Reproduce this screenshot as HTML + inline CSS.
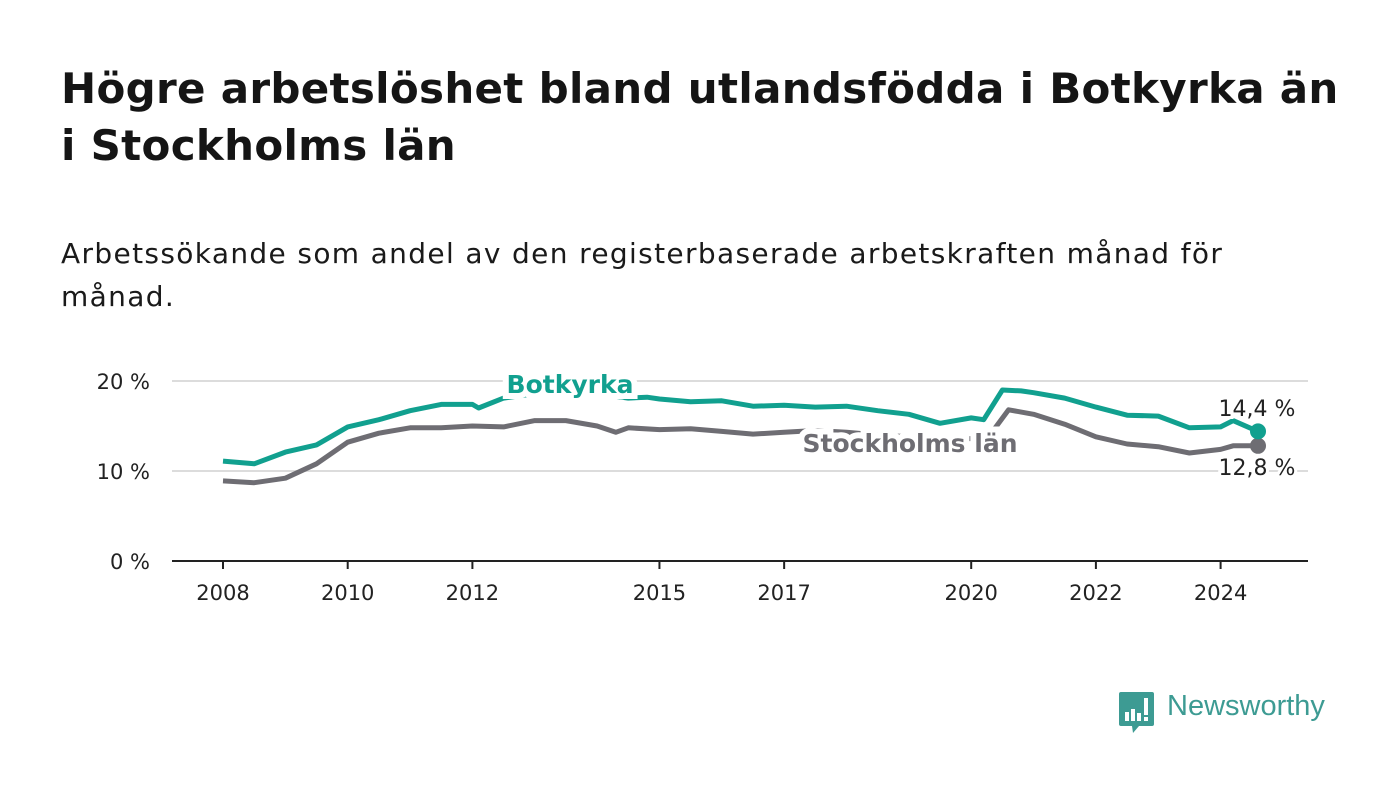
<!DOCTYPE html>
<html><head><meta charset="utf-8"><style>
body{margin:0;background:#fff;width:1400px;height:794px;overflow:hidden;font-family:"DejaVu Sans","Liberation Sans",sans-serif;color:#111}
h1{position:absolute;left:61px;top:60px;margin:0;font-size:42px;line-height:57px;font-weight:bold;width:1380px;color:#151515;letter-spacing:0.3px;white-space:nowrap}
.sub{position:absolute;left:61px;top:232px;font-size:28px;line-height:43px;width:1300px;color:#1a1a1a;margin:0;letter-spacing:1.35px;white-space:nowrap}
svg{position:absolute;left:0;top:0}
</style></head><body>
<h1>Högre arbetslöshet bland utlandsfödda i Botkyrka än<br>i Stockholms län</h1>
<p class="sub">Arbetssökande som andel av den registerbaserade arbetskraften månad för<br>månad.</p>
<svg id="chart" width="1400" height="794" font-family="DejaVu Sans, Liberation Sans, sans-serif"></svg>
<div style="position:absolute;left:1119px;top:692px;">
<svg width="36" height="42" style="position:absolute;left:0;top:0"><path d="M2 0h31a2 2 0 0 1 2 2v30a2 2 0 0 1-2 2H20l-6 7l-1-7H2a2 2 0 0 1-2-2V2a2 2 0 0 1 2-2z" fill="#3d9b93"/><rect x="6" y="20" width="4" height="9" fill="#fff"/><rect x="12" y="17" width="4" height="12" fill="#fff"/><rect x="18" y="21" width="4" height="8" fill="#fff"/><rect x="25" y="6" width="4" height="17" fill="#fff"/><rect x="25" y="25" width="4" height="4" fill="#fff"/></svg>
<span style="position:absolute;left:48px;top:-2px;font-size:29px;color:#3d9b93;white-space:nowrap;font-family:'Liberation Sans',sans-serif">Newsworthy</span></div>
<script>
const yearsB=[2008,2008.5,2009,2009.5,2010,2010.5,2011,2011.5,2012,2012.1,2012.5,2013,2013.5,2014,2014.5,2014.8,2015,2015.5,2016,2016.5,2017,2017.5,2018,2018.5,2019,2019.5,2020,2020.2,2020.5,2020.8,2021,2021.5,2022,2022.5,2023,2023.5,2024,2024.2,2024.6];
const botkyrka=[11.1,10.8,12.1,12.9,14.9,15.7,16.7,17.4,17.4,17.0,18.1,18.6,18.8,18.6,18.1,18.2,18.0,17.7,17.8,17.2,17.3,17.1,17.2,16.7,16.3,15.3,15.9,15.7,19.0,18.9,18.7,18.1,17.1,16.2,16.1,14.8,14.9,15.6,14.4];
const yearsS=[2008,2008.5,2009,2009.5,2010,2010.5,2011,2011.5,2012,2012.5,2013,2013.5,2014,2014.3,2014.5,2015,2015.5,2016,2016.5,2017,2017.5,2018,2018.5,2019,2019.5,2020,2020.3,2020.6,2021,2021.5,2022,2022.5,2023,2023.5,2024,2024.2,2024.6];
const stockholm=[8.9,8.7,9.2,10.8,13.2,14.2,14.8,14.8,15.0,14.9,15.6,15.6,15.0,14.3,14.8,14.6,14.7,14.4,14.1,14.3,14.5,14.3,14.0,13.8,13.6,13.6,14.0,16.8,16.3,15.2,13.8,13.0,12.7,12.0,12.4,12.8,12.8];
const yTicks=[0,10,20];
const yTickLabels=["0 %","10 %","20 %"];
const xTicks=[2008,2010,2012,2015,2017,2020,2022,2024];
const NS="http://www.w3.org/2000/svg";
const svg=document.getElementById('chart');
const X=v=>223+(v-2008)*62.35;
const Y=v=>561-v*9;
function el(t,a,txt){const e=document.createElementNS(NS,t);for(const k in a)e.setAttribute(k,a[k]);if(txt!==undefined)e.textContent=txt;svg.appendChild(e);return e;}
yTicks.forEach((t,i)=>{
 if(t>0){const g=el('line',{x1:172,x2:1308,y1:Y(t),y2:Y(t),stroke:'#dcdcdc','stroke-width':2});
 
 }
 const l=el('text',{x:150,y:Y(t)+8,'text-anchor':'end','font-size':21,fill:'#222'},yTickLabels[i]);
 
 
});
const ax=el('line',{x1:172,x2:1308,y1:561,y2:561,stroke:'#222','stroke-width':2});


xTicks.forEach(t=>{
 const tk=el('line',{x1:X(t),x2:X(t),y1:561,y2:569,stroke:'#222','stroke-width':2});
 
 
 const l=el('text',{x:X(t),y:600,'text-anchor':'middle','font-size':21,fill:'#222'},String(t));
 
 
});
function line(xs,vs,c,name){
 const d=xs.map((x,i)=>(i?'L':'M')+X(x).toFixed(1)+' '+Y(vs[i]).toFixed(1)).join(' ');
 const p=el('path',{d:d,fill:'none',stroke:c,'stroke-width':5,'stroke-linejoin':'round'});
 
 
 const n=xs.length-1;
 const dot=el('circle',{cx:X(xs[n]),cy:Y(vs[n]),r:8,fill:c});
 
 
}
line(yearsS,stockholm,'#6e6d73','stockholm-line');
line(yearsB,botkyrka,'#11a08f','botkyrka-line');
const lb=el('text',{x:570,y:393,'text-anchor':'middle','font-size':25,'font-weight':'bold',fill:'#11a08f',stroke:'#fff','stroke-width':12,'paint-order':'stroke'},'Botkyrka');


const ls=el('text',{x:910,y:452,'text-anchor':'middle','font-size':25,'font-weight':'bold',fill:'#6e6d73',stroke:'#fff','stroke-width':12,'paint-order':'stroke'},'Stockholms län');


const vb=el('text',{x:1257,y:416,'text-anchor':'middle','font-size':22,fill:'#222',stroke:'#fff','stroke-width':6,'paint-order':'stroke'},botkyrka[botkyrka.length-1].toFixed(1).replace('.',',')+' %');


const vs=el('text',{x:1257,y:475,'text-anchor':'middle','font-size':22,fill:'#222',stroke:'#fff','stroke-width':6,'paint-order':'stroke'},stockholm[stockholm.length-1].toFixed(1).replace('.',',')+' %');


</script>
</body></html>
